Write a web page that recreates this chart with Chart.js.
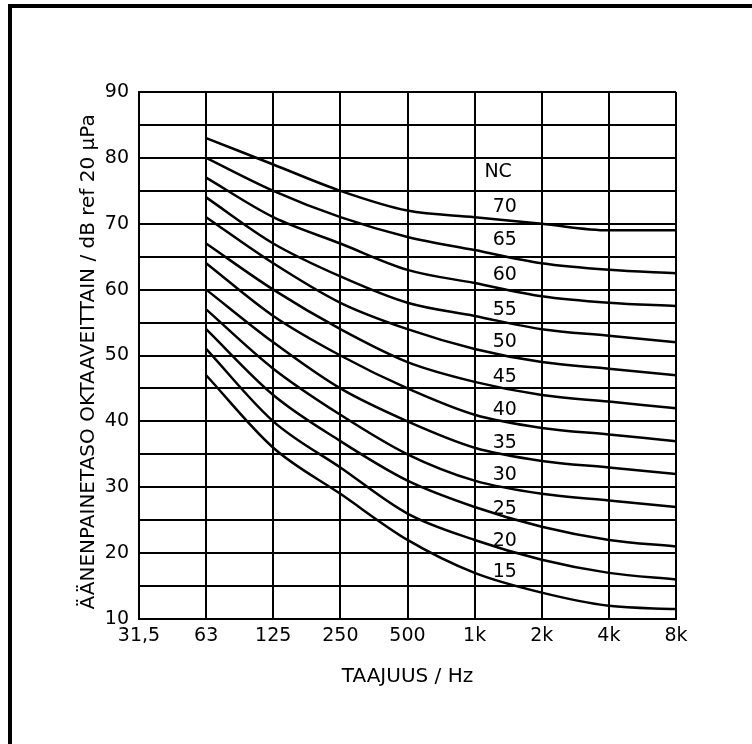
<!DOCTYPE html>
<html>
<head>
<meta charset="utf-8">
<script src="https://cdn.jsdelivr.net/npm/chart.js@4.4.1/dist/chart.umd.min.js"></script>
<style>
  html, body { margin: 0; padding: 0; background: #fff; }
  #wrap { position: relative; width: 752px; height: 744px; overflow: hidden; }
  #frame { position: absolute; left: 8px; top: 4px; width: 800px; height: 800px;
           border-top: 4px solid #000; border-left: 4px solid #000; }
  #chart { position: absolute; left: 0; top: 0; }
</style>
</head>
<body>
<div id="wrap">
  <div id="frame"></div>
  <canvas id="chart" width="752" height="744"></canvas>
</div>
<script>
// octave bands, 31,5 Hz has no curve values
var bands = ['31,5', '63', '125', '250', '500', '1k', '2k', '4k', '8k'];

// NC curves, dB per octave band
var nc70 = [null, 83, 79, 75, 72, 71, 70, 69, 69];
var nc65 = [null, 80, 75, 71, 68, 66, 64, 63, 62.5];
var nc60 = [null, 77, 71, 67, 63, 61, 59, 58, 57.5];
var nc55 = [null, 74, 67, 62, 58, 56, 54, 53, 52];
var nc50 = [null, 71, 64, 58, 54, 51, 49, 48, 47];
var nc45 = [null, 67, 60, 54, 49, 46, 44, 43, 42];
var nc40 = [null, 64, 56, 50, 45, 41, 39, 38, 37];
var nc35 = [null, 60, 52, 45, 40, 36, 34, 33, 32];
var nc30 = [null, 57, 48, 41, 35, 31, 29, 28, 27];
var nc25 = [null, 54, 44, 37, 31, 27, 24, 22, 21];
var nc20 = [null, 51, 40, 33, 26, 22, 19, 17, 16];
var nc15 = [null, 47, 36, 29, 22, 17, 14, 12, 11.5];

var curves = [nc70, nc65, nc60, nc55, nc50, nc45, nc40, nc35, nc30, nc25, nc20, nc15];
var curveNames = ['70', '65', '60', '55', '50', '45', '40', '35', '30', '25', '20', '15'];
// where the curve numbers sit (dB), between 1k and 2k
var labelLevels = [72.5, 67.5, 62.2, 56.9, 52, 46.7, 41.7, 36.7, 31.9, 26.7, 21.8, 17.1];
var labelBand = 5.45;
var headLevel = 77.8;

var numFont = { family: 'DejaVu Sans', size: 19 };

var curveLabels = {
    id: 'curveLabels',
    afterDatasetsDraw: function (chart) {
        var ctx = chart.ctx;
        var xs = chart.scales.x, ys = chart.scales.y;
        ctx.save();
        ctx.fillStyle = '#000';
        ctx.font = '19px "DejaVu Sans"';
        ctx.textAlign = 'center';
        ctx.textBaseline = 'middle';
        ctx.fillText('NC', xs.getPixelForValue(labelBand - 0.1), ys.getPixelForValue(headLevel));
        for (var i = 0; i < curveNames.length; i++) {
            ctx.fillText(curveNames[i], xs.getPixelForValue(labelBand), ys.getPixelForValue(labelLevels[i]));
        }
        ctx.restore();
    }
};

var datasets = curves.map(function (c, i) {
    return {
        label: 'NC ' + curveNames[i],
        data: c,
        borderColor: '#000',
        borderWidth: 2.5,
        pointRadius: 0,
        fill: false,
        cubicInterpolationMode: 'monotone'
    };
});

new Chart(document.getElementById('chart'), {
    type: 'line',
    data: { labels: bands, datasets: datasets },
    plugins: [curveLabels],
    options: {
        responsive: false,
        animation: false,
        devicePixelRatio: 1,
        layout: { padding: { left: 73, top: 92, right: 76, bottom: 51 } },
        plugins: { legend: { display: false }, tooltip: { enabled: false } },
        scales: {
            x: {
                type: 'category',
                offset: false,
                afterFit: function (s) { s.height = 74; },
                grid: { color: '#000', lineWidth: 2, drawTicks: false },
                border: { color: '#000', width: 2 },
                ticks: { color: '#000', font: numFont, padding: 6, maxRotation: 0, autoSkip: false },
                title: { display: true, text: 'TAAJUUS / Hz', color: '#000',
                         font: { family: 'DejaVu Sans', size: 20 } }
            },
            y: {
                min: 10,
                max: 90,
                afterFit: function (s) { s.width = 66; },
                grid: { color: '#000', lineWidth: 2, drawTicks: false },
                border: { color: '#000', width: 2 },
                ticks: {
                    stepSize: 5,
                    color: '#000',
                    font: numFont,
                    padding: 10,
                    callback: function (v) { return v % 10 === 0 ? v : ''; }
                },
                title: { display: true, text: 'ÄÄNENPAINETASO OKTAAVEITTAIN / dB ref 20 µPa  ', color: '#000',
                         font: { family: 'DejaVu Sans', size: 20 } }
            }
        }
    }
});
</script>
</body>
</html>
